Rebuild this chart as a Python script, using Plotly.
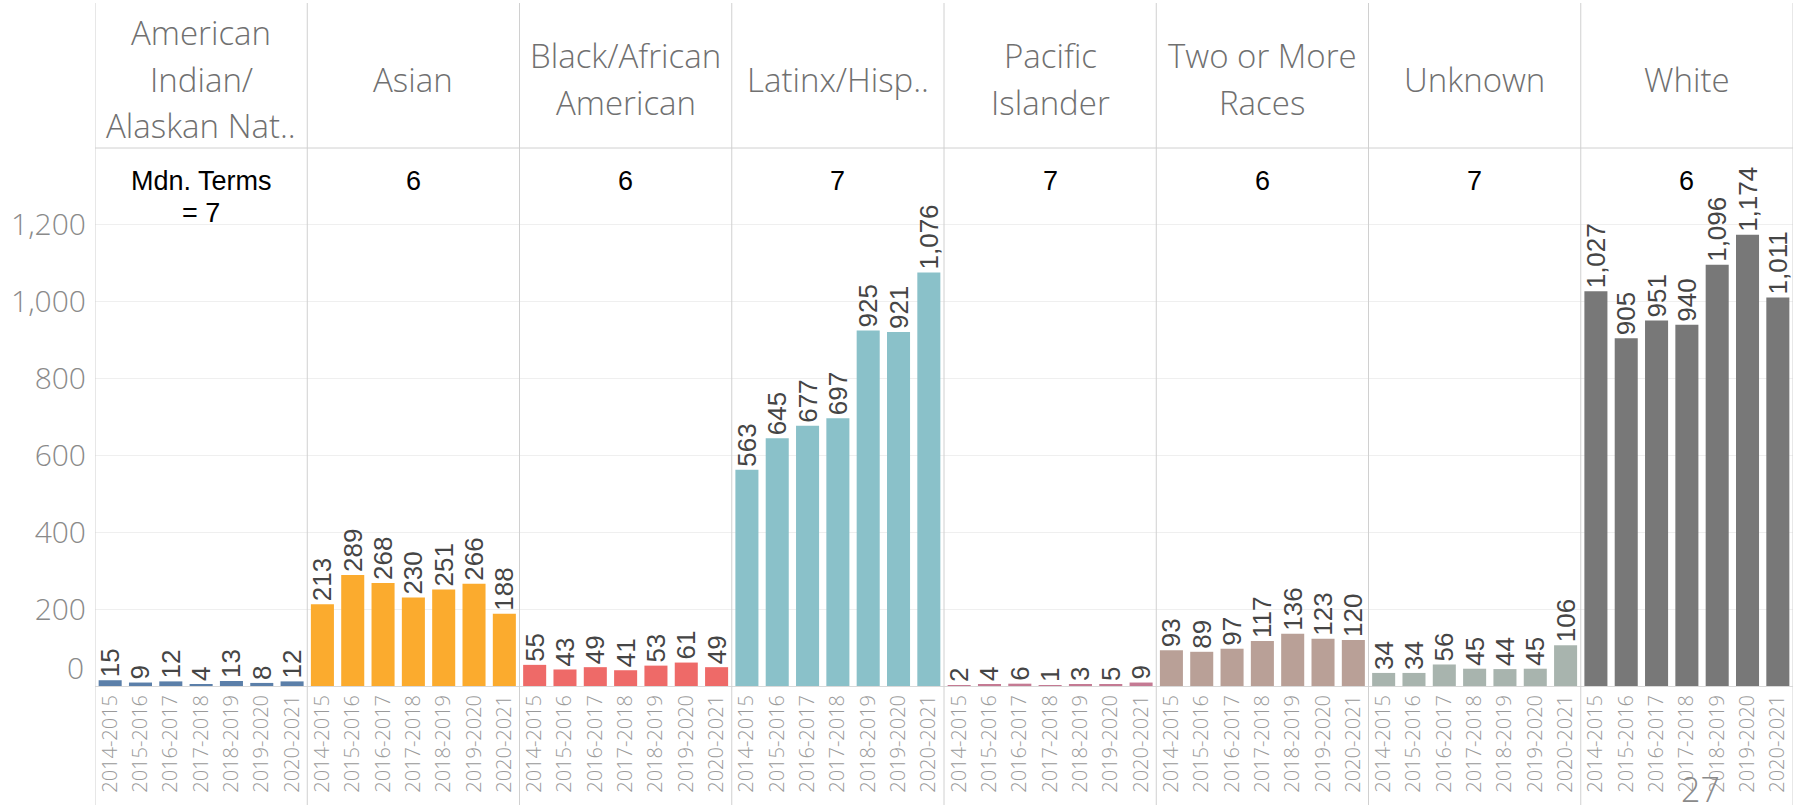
import plotly.graph_objects as go

# ---------------- data ----------------
years = ["2014-2015", "2015-2016", "2016-2017", "2017-2018",
         "2018-2019", "2019-2020", "2020-2021"]
categories = ["American Indian/ Alaskan Nat..", "Asian", "Black/African American",
              "Latinx/Hisp..", "Pacific Islander", "Two or More Races", "Unknown", "White"]
header_lines = [["American", "Indian/", "Alaskan Nat.."], ["Asian"],
                ["Black/African", "American"], ["Latinx/Hisp.."],
                ["Pacific", "Islander"], ["Two or More", "Races"], ["Unknown"], ["White"]]
american_indian = [15, 9, 12, 4, 13, 8, 12]
asian = [213, 289, 268, 230, 251, 266, 188]
black = [55, 43, 49, 41, 53, 61, 49]
latinx = [563, 645, 677, 697, 925, 921, 1076]
pacific = [2, 4, 6, 1, 3, 5, 9]
two_or_more = [93, 89, 97, 117, 136, 123, 120]
unknown = [34, 34, 56, 45, 44, 45, 106]
white = [1027, 905, 951, 940, 1096, 1174, 1011]
series = [american_indian, asian, black, latinx, pacific, two_or_more, unknown, white]
median_terms = [7, 6, 6, 7, 7, 6, 7, 6]
colors = ["#5B7FA9", "#FBAB2E", "#EE6A68", "#8AC1C9",
          "#C47A93", "#B9A097", "#A8B4AE", "#787878"]
y_ticks = [200, 400, 600, 800, 1000, 1200]

# ---------------- layout geometry (pixels) ----------------
W, H = 1796, 811
PX0, PX1, PY0, PY1 = 95, 1793, 148, 686


def py(p):
    return (PY1 - p) / (PY1 - PY0)


n = len(years)
fig = go.Figure()
tickvals, ticktext = [], []
for i, (cat, vals) in enumerate(zip(categories, series)):
    xs = [i * n + j for j in range(n)]
    tickvals += xs
    ticktext += years
    fig.add_trace(go.Bar(
        x=xs, y=vals, name=cat, width=0.76,
        marker=dict(color=colors[i], line=dict(width=0)),
        texttemplate="%{y:,}", textposition="outside", textangle=-90,
        textfont=dict(family="Liberation Sans", size=26, color="#454545"),
        cliponaxis=False, constraintext="none", showlegend=False,
    ))

shapes = []
line_col = "#d0d0d0"
for k in range(len(categories) + 1):
    xv = k * n - 0.5
    shapes.append(dict(type="line", xref="x", yref="paper", x0=xv, x1=xv,
                       y0=py(805), y1=py(3), line=dict(color=line_col, width=1)))
shapes.append(dict(type="line", xref="paper", yref="paper", x0=0, x1=1,
                   y0=1, y1=1, line=dict(color=line_col, width=1)))

annotations = []
head_font = dict(family="Open Sans", size=33, color="#707070", weight=300)
for i, lines in enumerate(header_lines):
    cx = i * n + (n - 1) / 2
    m = len(lines)
    for k, t in enumerate(lines):
        yc = 79 + (k - (m - 1) / 2) * 46
        annotations.append(dict(text=t, x=cx, xref="x", y=py(yc), yref="paper",
                                showarrow=False, font=head_font,
                                xanchor="center", yanchor="middle"))
med_font = dict(family="Liberation Sans", size=27, color="#000000")
for i, mv in enumerate(median_terms):
    cx = i * n + (n - 1) / 2
    if i == 0:
        annotations.append(dict(text="Mdn. Terms", x=cx, xref="x", y=py(181), yref="paper",
                                showarrow=False, font=med_font, xanchor="center", yanchor="middle"))
        annotations.append(dict(text="= %d" % mv, x=cx, xref="x", y=py(213), yref="paper",
                                showarrow=False, font=med_font, xanchor="center", yanchor="middle"))
    else:
        annotations.append(dict(text=str(mv), x=cx, xref="x", y=py(181), yref="paper",
                                showarrow=False, font=med_font, xanchor="center", yanchor="middle"))

tick_font = dict(family="Open Sans", size=30, color="#8a8a8a", weight=300)
annotations.append(dict(text="0", x=0, xref="paper", xanchor="right", xshift=-9,
                        y=0, yref="y", yanchor="middle", yshift=19,
                        showarrow=False, font=tick_font))
annotations.append(dict(text="27", x=(1700 - PX0) / (PX1 - PX0), xref="paper",
                        y=py(789), yref="paper", xanchor="center", yanchor="middle",
                        showarrow=False,
                        font=dict(family="Open Sans", size=34, color="#8a8a8a", weight=300)))

fig.update_layout(
    width=W, height=H,
    margin=dict(l=PX0, r=W - PX1, t=PY0, b=H - PY1, pad=0, autoexpand=False),
    paper_bgcolor="white", plot_bgcolor="white",
    barmode="overlay",
    shapes=shapes, annotations=annotations,
    xaxis=dict(range=[-0.5, len(categories) * n - 0.5], tickvals=tickvals, ticktext=ticktext,
               tickangle=-90, tickfont=dict(family="Open Sans", size=20, color="#9a9a9a", weight=300),
               showgrid=False, zeroline=False, showline=True, linecolor="#d9d9d9", linewidth=1,
               ticks="", fixedrange=True, automargin=False),
    yaxis=dict(range=[0, 1400], tickvals=y_ticks, tickformat=",", tickfont=tick_font,
               showgrid=True, gridcolor="#efefef", gridwidth=1, zeroline=False,
               showline=False, ticks="", ticklabelstandoff=8, automargin=False),
)

fig.write_html("out.html", config={"displayModeBar": False},
               post_script="document.body.style.margin='0';document.body.style.overflow='hidden';")
